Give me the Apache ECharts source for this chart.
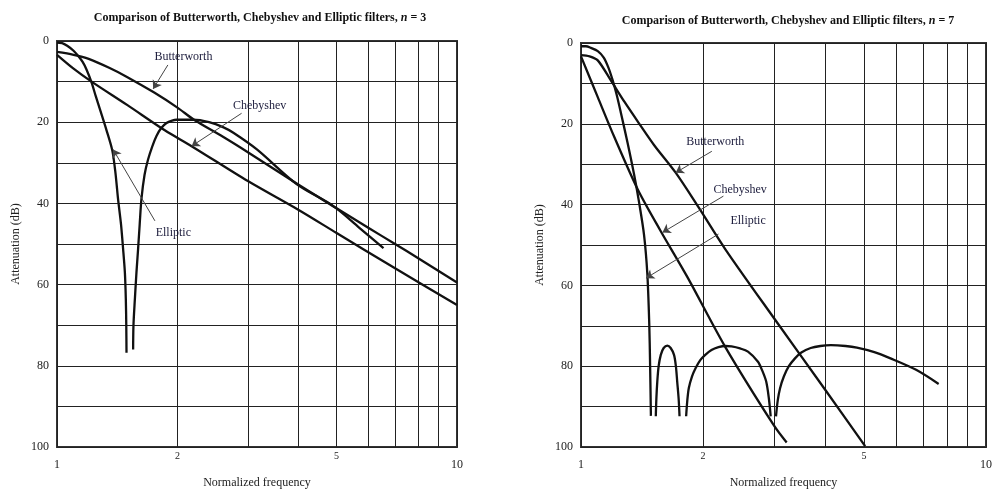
<!DOCTYPE html>
<html>
<head>
<meta charset="utf-8">
<script src="https://cdn.jsdelivr.net/npm/echarts@6/dist/echarts.min.js"></script>
<style>
html, body { margin: 0; background: #fff; }
#chart { width: 995px; height: 494px; }
</style>
</head>
<body>
<div id="chart"></div>
<script>
// values are [normalized frequency, attenuation dB]

// n = 3
const butter3 = [[1, 2.7], [1.1, 3.4], [1.2, 4.4], [1.35, 6.6], [1.5, 8.9], [1.75, 12.7], [2, 16.4],
  [2.2, 19.4], [2.6, 23.6], [3, 27.4], [4, 35.3], [5, 41.2], [6, 46], [7, 50], [8, 53.5], [10, 59.5]];
const cheby3 = [[1, 3.4], [1.1, 6.8], [1.22, 10], [1.5, 15.8], [1.86, 22], [2.17, 25.9], [3, 34.5],
  [4, 41.5], [5, 47.3], [7, 56], [10, 65]];
const ellip3a = [[1, 0.4], [1.03, 0.5], [1.065, 1.3], [1.1, 2.4], [1.13, 3.7], [1.16, 5.2], [1.185, 7],
  [1.22, 10.2], [1.25, 13.6], [1.28, 16.8], [1.33, 22], [1.375, 27], [1.4, 32.5], [1.421, 38.9],
  [1.445, 45], [1.463, 51.2], [1.478, 57], [1.486, 63.4], [1.49, 70], [1.492, 76.8]];
const ellip3b = [[1.55, 76], [1.553, 70], [1.566, 63.4], [1.58, 57], [1.595, 51.2], [1.61, 45],
  [1.626, 38.9], [1.655, 33], [1.689, 29.2], [1.73, 26], [1.773, 23.4], [1.82, 21.5], [1.878, 20.2],
  [1.94, 19.6], [1.99, 19.4], [2.19, 19.4], [2.4, 20], [2.6, 21.2], [2.76, 22.6], [3.16, 26.7],
  [3.98, 35.3], [4.9, 40.6], [5.7, 46], [6.55, 51]];

// n = 7
const butter7 = [[1, 3], [1.05, 3.3], [1.1, 4.3], [1.184, 9.2], [1.281, 14.6], [1.393, 20],
  [1.516, 25.3], [1.713, 32.1], [1.952, 40.7], [2.27, 51], [3, 68.2], [4, 85.7], [5.03, 99.8]];
const cheby7 = [[1, 3.3], [1.1, 13.4], [1.21, 23.4], [1.38, 36.2], [1.57, 46.4], [1.83, 57.9],
  [2.27, 75.2], [3, 94.8], [3.22, 98.9]];
const ellip7a = [[1, 0.8], [1.028, 0.8], [1.058, 1.2], [1.1, 2], [1.138, 3.6], [1.17, 6.2], [1.197, 9.2],
  [1.224, 12.7], [1.254, 17.2], [1.303, 24.7], [1.352, 32.5], [1.391, 39.4], [1.431, 47.5],
  [1.458, 57.1], [1.474, 69.4], [1.481, 79.3], [1.488, 92.3]];
const ellip7b = [[1.53, 92.4], [1.535, 88], [1.543, 83.8], [1.555, 80], [1.574, 77.2], [1.6, 75.5],
  [1.634, 74.9], [1.665, 75.5], [1.697, 77.2], [1.715, 80], [1.728, 83.8], [1.742, 88], [1.751, 92.4]];
const ellip7c = [[1.818, 92.4], [1.83, 88.5], [1.846, 85.4], [1.88, 82.5], [1.918, 80.5], [1.97, 78.5],
  [2.027, 77.2], [2.1, 76], [2.185, 75.3], [2.27, 75], [2.354, 75.1], [2.47, 75.6], [2.584, 76.4],
  [2.735, 78.9], [2.8, 81], [2.866, 83.8], [2.91, 88], [2.94, 92.4]];
const ellip7d = [[3.03, 92.4], [3.06, 88.5], [3.1, 85.5], [3.17, 82.5], [3.26, 80], [3.38, 78],
  [3.5, 76.6], [3.69, 75.5], [3.9, 75], [4.14, 74.8], [4.5, 75], [4.8, 75.4], [5.3, 76.5],
  [5.79, 78], [6.72, 80.9], [7.64, 84.4]];

// callouts: [text, label f, label dB, arrow start f, start dB, tip f, tip dB]
const notes3 = [
  ['Butterworth', 2.07, 4.0, 1.893, 5.9, 1.739, 11.8],
  ['Chebyshev', 3.21, 16.0, 2.894, 17.8, 2.17, 25.9],
  ['Elliptic', 1.954, 47.3, 1.757, 44.3, 1.381, 26.7]
];
const notes7 = [
  ['Butterworth', 2.145, 24.5, 2.104, 26.8, 1.713, 32.1],
  ['Chebyshev', 2.47, 36.4, 2.247, 37.9, 1.589, 46.9],
  ['Elliptic', 2.586, 44.1, 2.185, 47.3, 1.447, 58.2]
];

const gridFreqs = [1, 2, 3, 4, 5, 6, 7, 8, 9, 10];
const labelFreqs = [1, 2, 5, 10];
const dbTicks = [0, 20, 40, 60, 80, 100];

const serif = '"Liberation Serif", "DejaVu Serif", serif';
const ink = '#111';
const noteInk = '#1c1c3c';

const chart = echarts.init(document.getElementById('chart'));

function titleFor(n, x, y) {
  return {
    text: '{t|Comparison of Butterworth, Chebyshev and Elliptic filters, }{i|n}{t| = ' + n + '}',
    left: x,
    top: y,
    textAlign: 'center',
    textStyle: {
      rich: {
        t: { fontFamily: serif, fontSize: 12, fontWeight: 'bold', color: ink },
        i: { fontFamily: serif, fontSize: 12, fontWeight: 'bold', fontStyle: 'italic', color: ink }
      }
    }
  };
}

function xAxisFor(gi) {
  return {
    type: 'log', logBase: 10, min: 1, max: 10, gridIndex: gi,
    name: 'Normalized frequency', nameLocation: 'middle', nameGap: 30,
    nameTextStyle: { fontFamily: serif, fontSize: 12, color: '#222' },
    axisLine: { show: false },
    axisTick: { show: false, customValues: gridFreqs },
    axisLabel: {
      customValues: labelFreqs,
      margin: 4,
      formatter: v => (v === 2 || v === 5) ? '{s|' + v + '}' : '{b|' + v + '}',
      rich: {
        b: { fontFamily: serif, fontSize: 12, color: '#222', padding: [8, 0, 0, 0] },
        s: { fontFamily: serif, fontSize: 10, color: '#222' }
      }
    },
    splitLine: { show: true, lineStyle: { color: '#222', width: 1 } }
  };
}

function yAxisFor(gi) {
  return {
    type: 'value', inverse: true, min: 0, max: 100, interval: 10, gridIndex: gi,
    name: 'Attenuation (dB)', nameLocation: 'middle', nameGap: 35,
    nameTextStyle: { fontFamily: serif, fontSize: 12, color: '#222' },
    axisLine: { show: false },
    axisTick: { show: false },
    axisLabel: {
      fontFamily: serif, fontSize: 12, color: '#222', margin: 8,
      formatter: v => dbTicks.includes(v) ? String(v) : ''
    },
    splitLine: { show: true, lineStyle: { color: '#222', width: 1 } }
  };
}

function curve(data, gi) {
  return {
    type: 'line', data: data, xAxisIndex: gi, yAxisIndex: gi,
    showSymbol: false, smooth: 0.3, silent: true,
    lineStyle: { color: ink, width: 2.3 }
  };
}

function callouts(notes, gi) {
  return {
    type: 'line', data: [], xAxisIndex: gi, yAxisIndex: gi, silent: true,
    markLine: {
      silent: true, animation: false,
      symbol: ['none', 'arrow'], symbolSize: 8,
      label: { show: false },
      lineStyle: { color: '#444', width: 1, type: 'solid' },
      data: notes.map(d => [{ coord: [d[3], d[4]] }, { coord: [d[5], d[6]] }])
    },
    markPoint: {
      silent: true, animation: false, symbolSize: 0,
      label: { show: true, fontFamily: serif, fontSize: 12, color: noteInk, formatter: p => p.name },
      data: notes.map(d => ({ name: d[0], coord: [d[1], d[2]] }))
    }
  };
}

chart.setOption({
  animation: false,
  backgroundColor: '#fff',
  title: [titleFor(3, 255, 7), titleFor(7, 783, 10)],
  grid: [
    { left: 57, top: 41, width: 400, height: 409, show: true, borderColor: '#333', borderWidth: 2 },
    { left: 581, top: 43, width: 408, height: 406, show: true, borderColor: '#333', borderWidth: 2 }
  ],
  xAxis: [xAxisFor(0), xAxisFor(1)],
  yAxis: [yAxisFor(0), yAxisFor(1)],
  series: [
    curve(butter3, 0), curve(cheby3, 0), curve(ellip3a, 0), curve(ellip3b, 0), callouts(notes3, 0),
    curve(butter7, 1), curve(cheby7, 1), curve(ellip7a, 1), curve(ellip7b, 1), curve(ellip7c, 1),
    curve(ellip7d, 1), callouts(notes7, 1)
  ]
});
</script>
</body>
</html>
